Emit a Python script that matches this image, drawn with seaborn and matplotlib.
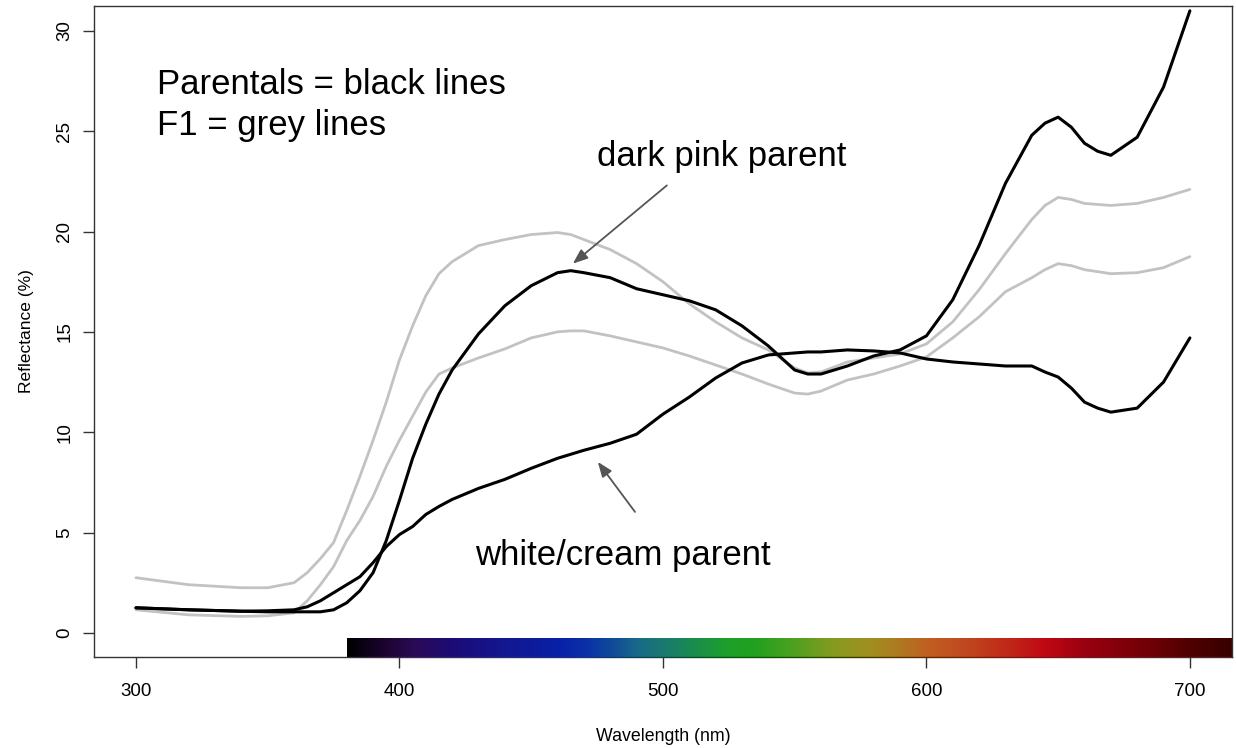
import numpy as np
import pandas as pd
import matplotlib
matplotlib.use("Agg")
import matplotlib.pyplot as plt
from matplotlib.colors import LinearSegmentedColormap
import seaborn as sns

# ---------------- data ----------------
wavelength = [300, 320, 340, 350, 360, 365, 370, 375, 380, 385, 390, 395, 400, 405, 410, 415, 420,
              430, 440, 450, 460, 465, 470, 480, 490, 500, 510, 520, 530, 540, 550, 555, 560, 570, 580,
              590, 600, 610, 620, 630, 640, 645, 650, 655, 660, 665, 670, 680, 690, 700]

dark_pink_parent = [1.25, 1.15, 1.08, 1.05, 1.05, 1.05, 1.05, 1.15, 1.5, 2.1, 3.0, 4.6, 6.6, 8.7, 10.4, 11.9, 13.1,
                    14.9, 16.3, 17.3, 17.95, 18.05, 17.95, 17.7, 17.15, 16.85, 16.55, 16.1, 15.3, 14.3, 13.1, 12.9, 12.9, 13.3, 13.8,
                    14.1, 14.8, 16.6, 19.3, 22.4, 24.8, 25.4, 25.7, 25.2, 24.4, 24.0, 23.8, 24.7, 27.2, 31.0]

white_cream_parent = [1.25, 1.15, 1.08, 1.1, 1.15, 1.3, 1.6, 2.0, 2.4, 2.8, 3.5, 4.3, 4.9, 5.3, 5.9, 6.3, 6.65,
                      7.2, 7.65, 8.2, 8.7, 8.9, 9.1, 9.45, 9.9, 10.9, 11.75, 12.7, 13.45, 13.85, 13.95, 14.0, 14.0, 14.1, 14.05,
                      13.95, 13.65, 13.5, 13.4, 13.3, 13.3, 13.0, 12.75, 12.2, 11.5, 11.2, 11.0, 11.2, 12.5, 14.7]

f1_upper = [2.75, 2.4, 2.25, 2.25, 2.5, 3.0, 3.7, 4.5, 6.1, 7.8, 9.6, 11.5, 13.6, 15.3, 16.8, 17.9, 18.5,
            19.3, 19.6, 19.85, 19.95, 19.85, 19.6, 19.1, 18.4, 17.5, 16.4, 15.5, 14.7, 14.1, 13.2, 12.95, 13.0, 13.5, 13.7,
            13.9, 14.4, 15.5, 17.1, 18.9, 20.6, 21.3, 21.7, 21.6, 21.4, 21.35, 21.3, 21.4, 21.7, 22.1]

f1_lower = [1.15, 0.9, 0.82, 0.85, 1.0, 1.6, 2.4, 3.3, 4.6, 5.6, 6.8, 8.3, 9.6, 10.8, 12.0, 12.9, 13.2,
            13.7, 14.15, 14.7, 15.0, 15.05, 15.05, 14.8, 14.5, 14.2, 13.8, 13.35, 12.9, 12.4, 11.95, 11.9, 12.05, 12.6, 12.9,
            13.3, 13.75, 14.7, 15.75, 17.0, 17.7, 18.1, 18.4, 18.3, 18.1, 18.0, 17.9, 17.95, 18.2, 18.75]

# visible-spectrum colour bar stops
spectrum_nm = [380, 395, 405, 420, 440, 460, 470, 480, 490, 500, 510, 525, 535, 550, 565, 578,
               590, 600, 615, 630, 645, 660, 680, 700, 716]
spectrum_hex = ["#000000", "#1e0535", "#2a0a55", "#1c0c78", "#121890", "#0820a8", "#0a30a8", "#104a98",
                "#186a88", "#1a7a70", "#1a8a50", "#1ea028", "#22a020", "#50a020", "#889a20", "#a09020",
                "#b07820", "#c06020", "#c04820", "#c02a18", "#c00814", "#9a0010", "#780008", "#500000", "#380000"]

x_ticks = [300, 400, 500, 600, 700]
y_ticks = [0, 5, 10, 15, 20, 25, 30]

# ---------------- plot ----------------
sns.set_style("ticks")
plt.rcParams["font.family"] = ["Liberation Sans", "DejaVu Sans"]
plt.rcParams["text.color"] = "black"
plt.rcParams["axes.labelcolor"] = "black"
plt.rcParams["xtick.color"] = "black"
plt.rcParams["ytick.color"] = "black"

fig = plt.figure(figsize=(12.36, 7.48), dpi=100)
ax = fig.add_axes([0.0761, 0.1217, 0.9207, 0.8703])

xlim = (284.1, 716.0)
ylim = (-1.2, 31.24)

df = pd.DataFrame({"wl": wavelength, "dark": dark_pink_parent, "white": white_cream_parent,
                   "f1a": f1_upper, "f1b": f1_lower})

for col in ["f1a", "f1b"]:
    sns.lineplot(data=df, x="wl", y=col, ax=ax, color="#c2c2c2", linewidth=2.0, zorder=2)
for col in ["dark", "white"]:
    sns.lineplot(data=df, x="wl", y=col, ax=ax, color="black", linewidth=2.2, zorder=3)

# spectrum bar
pos = [(w - spectrum_nm[0]) / (spectrum_nm[-1] - spectrum_nm[0]) for w in spectrum_nm]
cmap = LinearSegmentedColormap.from_list("spec", list(zip(pos, spectrum_hex)))
grad = np.linspace(0, 1, 512).reshape(1, -1)
ax.imshow(grad, cmap=cmap, aspect="auto", extent=[spectrum_nm[0], spectrum_nm[-1], ylim[0], -0.3],
          zorder=1, interpolation="bilinear")

ax.set_xlim(*xlim)
ax.set_ylim(*ylim)
ax.set_xticks(x_ticks)
ax.set_yticks(y_ticks)
ax.set_xticklabels([str(t) for t in x_ticks], fontsize=13.5)
ax.set_yticklabels([str(t) for t in y_ticks], fontsize=13.5, rotation=90, va="center")
ax.tick_params(axis="both", direction="out", length=8, width=1.0, color="#333333", labelcolor="black")
ax.tick_params(axis="x", pad=11)
ax.tick_params(axis="y", pad=7)
for s in ax.spines.values():
    s.set_visible(True)
    s.set_color("#333333")
    s.set_linewidth(1.0)

ax.set_xlabel("Wavelength (nm)", fontsize=12.8, labelpad=20, color="black")
ax.set_ylabel("Reflectance (%)", fontsize=12.5, labelpad=16, color="black")

# annotations
fs = 25
ax.text(308, 26.86, "Parentals = black lines", fontsize=fs, va="baseline", ha="left", color="black")
ax.text(308, 24.8, "F1 = grey lines", fontsize=fs, va="baseline", ha="left", color="black")
ax.text(475, 23.27, "dark pink parent", fontsize=fs, va="baseline", ha="left", color="black")
ax.text(428.7, 3.39, "white/cream parent", fontsize=fs, va="baseline", ha="left", color="black")

arrow_kw = dict(arrowstyle="-|>,head_length=0.9,head_width=0.35", color="#555555", lw=1.3,
                shrinkA=0, shrinkB=0)
ax.annotate("", xy=(465.8, 18.4), xytext=(501.5, 22.3), arrowprops=arrow_kw)
ax.annotate("", xy=(475.3, 8.52), xytext=(489.4, 6.03), arrowprops=arrow_kw)

fig.savefig("out.png", dpi=100)
